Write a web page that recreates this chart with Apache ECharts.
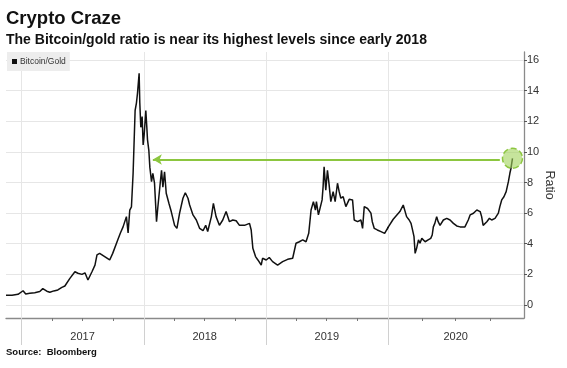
<!DOCTYPE html>
<html><head><meta charset="utf-8">
<script src="https://cdn.jsdelivr.net/npm/echarts@6/dist/echarts.min.js"></script>
<style>html,body{margin:0;padding:0;background:#fff}#c{width:567px;height:368px}</style>
</head><body><div id="c"></div>
<script>
// ---- data ----
const dates = [
'2016-11-15','2016-12-03','2016-12-21','2016-12-26','2017-01-05','2017-01-13','2017-01-25','2017-02-09','2017-02-24','2017-03-05',
'2017-03-17','2017-03-26','2017-04-07','2017-04-19','2017-05-01','2017-05-10','2017-05-25','2017-06-09','2017-06-18','2017-06-30',
'2017-07-09','2017-07-18','2017-07-30','2017-08-08','2017-08-14','2017-08-22','2017-09-06','2017-09-21','2017-09-30','2017-10-15',
'2017-10-23','2017-10-31','2017-11-10','2017-11-15','2017-11-20','2017-11-25','2017-11-30','2017-12-06','2017-12-10','2017-12-13',
'2017-12-18','2017-12-20','2017-12-23','2017-12-27','2017-12-30','2018-01-02','2018-01-07','2018-01-10','2018-01-12','2018-01-16',
'2018-01-19','2018-01-24','2018-01-28','2018-02-02','2018-02-08','2018-02-12','2018-02-19','2018-02-23','2018-02-27','2018-03-04',
'2018-03-09','2018-03-17','2018-03-24','2018-04-03','2018-04-10','2018-04-18','2018-04-28','2018-05-05','2018-05-13','2018-05-18',
'2018-05-28','2018-06-07','2018-06-17','2018-06-27','2018-07-05','2018-07-11','2018-07-22','2018-07-28','2018-08-05','2018-08-15',
'2018-08-25','2018-09-04','2018-09-14','2018-09-24','2018-10-04','2018-10-14','2018-10-29','2018-11-13','2018-11-18','2018-11-23',
'2018-12-01','2018-12-08','2018-12-18','2018-12-22','2019-01-02','2019-01-11','2019-01-21','2019-02-05','2019-02-20','2019-03-07',
'2019-03-22','2019-04-01','2019-04-11','2019-04-21','2019-05-01','2019-05-09','2019-05-16','2019-05-23','2019-05-29','2019-06-01',
'2019-06-07','2019-06-12','2019-06-18','2019-06-21','2019-06-24','2019-06-29','2019-07-04','2019-07-09','2019-07-14','2019-07-21',
'2019-07-27','2019-08-03','2019-08-08','2019-08-13','2019-08-20','2019-08-28','2019-09-07','2019-09-17','2019-09-22','2019-10-02',
'2019-10-12','2019-10-17','2019-10-22','2019-11-01','2019-11-11','2019-11-15','2019-11-21','2019-11-30','2019-12-11','2019-12-22',
'2020-01-02','2020-01-15','2020-02-02','2020-02-11','2020-02-20','2020-02-27','2020-03-03','2020-03-07','2020-03-11','2020-03-14',
'2020-03-18','2020-03-23','2020-03-27','2020-04-01','2020-04-10','2020-04-18','2020-04-25','2020-04-29','2020-05-02','2020-05-06',
'2020-05-11','2020-05-15','2020-05-20','2020-05-29','2020-06-07','2020-06-16','2020-06-25','2020-07-04','2020-07-13','2020-07-26',
'2020-07-31','2020-08-04','2020-08-09','2020-08-18','2020-08-27','2020-09-05','2020-09-09','2020-09-13','2020-09-23','2020-09-30',
'2020-10-06','2020-10-15','2020-10-20','2020-10-24','2020-10-28','2020-11-02','2020-11-08','2020-11-14','2020-11-17','2020-11-20',
'2020-11-24','2020-11-27','2020-12-01'
];
const ratio = [
0.63,0.64,0.70,0.78,0.93,0.72,0.76,0.80,0.88,1.07,
0.90,0.83,0.92,0.98,1.15,1.24,1.74,2.17,2.07,2.00,
2.10,1.63,2.17,2.60,3.27,3.37,3.16,2.94,3.37,4.25,
4.70,5.10,5.77,4.70,6.20,6.40,8.60,12.7,13.2,13.8,
15.13,13.2,11.6,12.3,10.45,11.1,12.7,11.6,10.8,10.1,
9.0,8.05,8.6,7.95,5.44,6.4,7.95,8.8,7.7,8.7,
7.3,6.64,6.1,5.2,5.0,6.0,6.97,7.33,6.97,6.53,
5.88,5.55,5.0,4.85,5.2,4.8,5.77,6.64,5.77,5.2,
5.55,6.1,5.44,5.55,5.5,5.2,5.2,5.33,4.9,3.7,
3.16,2.94,2.61,3.05,2.94,3.1,2.83,2.61,2.83,2.98,
3.05,4.03,4.13,4.25,4.13,4.68,6.2,6.75,6.2,6.75,
5.88,5.99,6.86,7.73,9.03,7.5,8.8,7.84,6.75,7.4,
6.75,7.95,7.4,6.97,7.07,6.42,6.9,6.86,5.55,5.44,
5.55,5.0,6.42,6.3,6.0,5.44,5.0,4.9,4.79,4.68,
5.1,5.6,6.1,6.53,5.77,5.55,5.33,4.9,4.46,3.37,
3.7,4.25,4.03,4.35,4.13,4.25,4.35,4.57,5.1,5.33,
5.77,5.44,5.2,5.55,5.66,5.55,5.33,5.16,5.1,5.1,
5.07,5.55,5.88,5.99,6.2,6.1,5.77,5.2,5.44,5.66,
5.55,5.66,5.77,6.0,6.42,6.86,7.07,7.4,7.73,8.05,
8.6,8.93,9.58
];
const yTicks = [0,2,4,6,8,10,12,14,16];
const yearStarts0 = ['2017-01-01','2018-01-01','2019-01-01'];
const yearStarts1 = ['2020-01-01'];
const yearMid0 = ['2017-07-02','2018-07-02','2019-07-02'];
const yearMid1 = ['2020-07-01'];
const quarters0 = ['2017-04-01','2017-07-01','2017-10-01','2018-04-01','2018-07-01','2018-10-01','2019-04-01','2019-07-01','2019-10-01'];
const quarters1 = ['2020-04-01','2020-07-01','2020-10-01'];
const range0 = ['2016-11-15','2020-01-01'];
const range1 = ['2020-01-01','2021-01-01'];
const splitDate = '2020-01-01';
const arrowLevel = 9.5;
const arrowFrom = '2018-01-28';
const arrowTo = '2020-10-28';

// ---- chart ----
const T = d => Date.parse(d + 'T00:00:00Z');
const Ts = arr => arr.map(T);
const pairs = dates.map((d, i) => [T(d), ratio[i]]);
const splitT = T(splitDate);
const firstAfter = pairs.findIndex(p => p[0] >= splitT);
const part0 = pairs.slice(0, firstAfter + 1);
const part1 = pairs.slice(firstAfter - 1);
const last = pairs[pairs.length - 1];

const FONT = '"Liberation Sans", Arial, sans-serif';
const GREEN = '#8cc63f';
const GRIDC = '#e6e6e6';
const AXC = '#8a8a8a';
const yMin = -0.85, yMax = 16.52;

function xBase(grid, range, ticks, mids) {
  return {
    type: 'value', gridIndex: grid, min: T(range[0]), max: T(range[1]), position: 'bottom',
    axisLine: { show: true, onZero: false, lineStyle: { color: AXC, width: 1.3 } },
    axisTick: { show: true, customValues: Ts(ticks), length: 27, lineStyle: { color: '#d0d0d0', width: 1 } },
    axisLabel: { show: true, customValues: Ts(mids), formatter: v => String(new Date(v).getUTCFullYear()),
      fontFamily: FONT, fontSize: 11, color: '#333', margin: 13 },
    splitLine: { show: false }
  };
}
function xQuarter(grid, range, ticks) {
  return {
    type: 'value', gridIndex: grid, min: T(range[0]), max: T(range[1]), position: 'bottom',
    axisLine: { show: false, onZero: false },
    axisTick: { show: true, customValues: Ts(ticks), length: 3, lineStyle: { color: '#777', width: 1 } },
    axisLabel: { show: false }, splitLine: { show: false }
  };
}
function gridSeries(idx, vlines) {
  return {
    name: 'grid' + idx, type: 'line', xAxisIndex: idx, yAxisIndex: idx, data: [], silent: true,
    markLine: { silent: true, symbol: ['none', 'none'], label: { show: false }, z: 1, animation: false,
      lineStyle: { color: GRIDC, width: 1, type: 'solid' },
      data: yTicks.map(v => ({ yAxis: v })).concat(vlines.map(d => ({ xAxis: T(d) }))) }
  };
}

const chart = echarts.init(document.getElementById('c'));
chart.setOption({
  animation: false,
  backgroundColor: '#fff',
  title: [
    { text: 'Crypto Craze', left: 6, top: 9, padding: 0, textStyle: { fontFamily: FONT, fontWeight: 'bold', fontSize: 18.5, color: '#111' } },
    { text: 'The Bitcoin/gold ratio is near its highest levels since early 2018', left: 6, top: 33, padding: 0,
      textStyle: { fontFamily: FONT, fontWeight: 'bold', fontSize: 14, color: '#111' } },
    { text: 'Source:  Bloomberg', left: 6, top: 347, padding: 0, textStyle: { fontFamily: FONT, fontWeight: 'bold', fontSize: 9.5, color: '#111' } }
  ],
  legend: {
    data: ['Bitcoin/Gold'], left: 7, top: 52, padding: [5, 4, 5, 5], backgroundColor: '#ededed',
    itemWidth: 5, itemHeight: 5, icon: 'rect', selectedMode: false,
    textStyle: { fontFamily: FONT, fontSize: 8.5, color: '#333', padding: [0, 0, 0, -2] }
  },
  grid: [
    { left: 6, right: 567 - 388, top: 52, bottom: 50, containLabel: false, outerBoundsMode: 'none' },
    { left: 388, right: 43, top: 52, bottom: 50, containLabel: false, outerBoundsMode: 'none' }
  ],
  xAxis: [
    xBase(0, range0, yearStarts0, yearMid0),
    xBase(1, range1, yearStarts1, yearMid1),
    xQuarter(0, range0, quarters0),
    xQuarter(1, range1, quarters1)
  ],
  yAxis: [
    { type: 'value', gridIndex: 0, min: yMin, max: yMax, show: false, splitLine: { show: false } },
    { type: 'value', gridIndex: 1, position: 'right', min: yMin, max: yMax,
      axisLine: { show: true, lineStyle: { color: AXC, width: 1.3 } },
      axisTick: { show: true, customValues: yTicks, length: 3, lineStyle: { color: '#555' } },
      axisLabel: { customValues: yTicks, fontFamily: FONT, fontSize: 11, color: '#333', margin: 3 },
      splitLine: { show: false },
      name: 'Ratio', nameLocation: 'middle', nameRotate: -90, nameGap: 19,
      nameTextStyle: { fontFamily: FONT, fontSize: 12.5, color: '#333' } }
  ],
  series: [
    gridSeries(0, yearStarts0),
    gridSeries(1, yearStarts1),
    { name: 'Bitcoin/Gold', type: 'line', xAxisIndex: 0, yAxisIndex: 0, data: part0, showSymbol: false, symbol: 'none',
      lineStyle: { color: '#111', width: 1.5 }, itemStyle: { color: '#111' }, z: 3, clip: true,
      markLine: { silent: true, symbol: ['arrow', 'none'], symbolSize: [8, 9], label: { show: false }, z: 5,
        lineStyle: { color: GREEN, width: 2, type: 'solid' },
        data: [[{ coord: [T(arrowFrom), arrowLevel] }, { coord: [splitT, arrowLevel] }]] } },
    { name: 'Bitcoin/Gold', type: 'line', xAxisIndex: 1, yAxisIndex: 1, data: part1, showSymbol: false, symbol: 'none',
      lineStyle: { color: '#111', width: 1.5 }, itemStyle: { color: '#111' }, z: 3, clip: true,
      markLine: { silent: true, symbol: ['none', 'none'], label: { show: false }, z: 5,
        lineStyle: { color: GREEN, width: 2, type: 'solid' },
        data: [[{ coord: [splitT, arrowLevel] }, { coord: [T(arrowTo), arrowLevel] }]] },
      markPoint: { silent: true, symbol: 'circle', symbolSize: 20, label: { show: false }, z: 6,
        itemStyle: { color: 'rgba(160,210,90,0.6)', borderColor: GREEN, borderType: 'dashed', borderWidth: 1.5 },
        data: [{ coord: [last[0], last[1]] }] } }
  ]
});
</script>
</body></html>
